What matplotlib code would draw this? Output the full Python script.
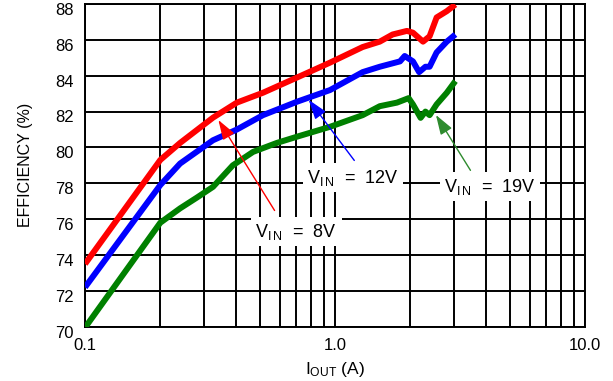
import matplotlib
matplotlib.use('Agg')
import matplotlib.pyplot as plt
from matplotlib.ticker import FixedLocator, NullFormatter
from matplotlib.transforms import ScaledTranslation

plt.rcParams['font.family'] = ['Liberation Sans', 'DejaVu Sans']
plt.rcParams['mathtext.default'] = 'regular'

# ------------ data -------------------------------------------- #
iout_8v = [0.1, 0.2, 0.24, 0.325, 0.405, 0.515, 0.705, 0.955, 1.29, 1.51, 1.70, 1.94, 2.05, 2.25, 2.39, 2.55, 2.8, 3.03]
eff_8v = [73.5, 79.3, 80.25, 81.66, 82.5, 83.05, 83.9, 84.73, 85.6, 85.9, 86.3, 86.5, 86.4, 85.9, 86.2, 87.25, 87.6, 87.97]

iout_12v = [0.1, 0.2, 0.24, 0.325, 0.405, 0.515, 0.705, 0.955, 1.29, 1.51, 1.82, 1.90, 2.05, 2.17, 2.3, 2.39, 2.55, 2.8, 3.03]
eff_12v = [72.2, 77.9, 79.1, 80.4, 81.0, 81.8, 82.55, 83.2, 84.2, 84.5, 84.8, 85.1, 84.8, 84.2, 84.5, 84.5, 85.3, 85.9, 86.3]

iout_19v = [0.1, 0.2, 0.24, 0.28, 0.325, 0.39, 0.47, 0.585, 0.705, 0.955, 1.29, 1.51, 1.77, 1.97, 2.05, 2.2, 2.3, 2.39, 2.55, 2.8, 3.03]
eff_19v = [69.95, 75.8, 76.6, 77.2, 77.8, 79.0, 79.75, 80.25, 80.6, 81.15, 81.8, 82.3, 82.5, 82.75, 82.4, 81.65, 82.0, 81.8, 82.4, 83.05, 83.7]

x_ticks = [0.1, 1.0, 10.0]
x_tick_labels = ['0.1', '1.0', '10.0']
y_ticks = list(range(70, 89, 2))

# labels: (text, text pos, arrow tail, arrow tip, colour)
labels = [
    (r'V$_{I\,N}$  =  8V', (0.70, 75.3), (0.581, 76.35), (0.337, 81.66), 'red'),
    (r'V$_{I\,N}$  =  12V', (1.18, 78.3), (1.213, 79.15), (0.773, 82.78), 'blue'),
    (r'V$_{I\,N}$  =  19V', (4.17, 77.8), (3.53, 78.59), (2.5, 81.94), '#2e8b2e'),
]
# -------------------------------------------------------------- #

fig = plt.figure(figsize=(6.13, 3.81), dpi=100)
ax = fig.add_axes([0.1387, 0.1425, 0.8156, 0.847])

ax.plot(iout_8v, eff_8v, c='#ff0000', lw=4.3, solid_capstyle='butt', zorder=3)
ax.plot(iout_12v, eff_12v, c='#0000ff', lw=4.3, solid_capstyle='butt', zorder=3)
ax.plot(iout_19v, eff_19v, c='#008000', lw=4.3, solid_capstyle='butt', zorder=3)

ax.set_xscale('log')
ax.set_xlim(0.1, 10)
ax.set_ylim(70, 88)
ax.xaxis.set_major_locator(FixedLocator(x_ticks))
ax.set_xticklabels(x_tick_labels)
ax.xaxis.set_minor_locator(FixedLocator([m * d for d in (0.1, 1.0) for m in range(2, 10)]))
ax.xaxis.set_minor_formatter(NullFormatter())
ax.set_yticks(y_ticks)

ax.grid(True, which='both', axis='x', color='black', lw=1.4, zorder=1)
ax.grid(True, which='major', axis='y', color='black', lw=1.4, zorder=1)
ax.set_axisbelow(True)
for s in ax.spines.values():
    s.set_linewidth(1.4)
ax.tick_params(which='both', length=0, labelsize=12, colors='black')
ax.tick_params(axis='x', pad=8)
ax.tick_params(axis='y', pad=8)
# the reference's y labels sit a little below their grid lines
shift = ScaledTranslation(0, -3.5 / 72, fig.dpi_scale_trans)
for lab in ax.get_yticklabels():
    lab.set_transform(lab.get_transform() + shift)

ax.set_xlabel(r'I$_{OUT}$ (A)', fontsize=12.5, labelpad=5)
ax.set_ylabel('EFFICIENCY (%)', fontsize=11.5, labelpad=16)

for txt, pos, tail, tip, col in labels:
    ax.text(pos[0], pos[1], txt, fontsize=13, ha='center', va='center', zorder=4,
            bbox=dict(boxstyle='square,pad=0.25', fc='white', ec='none'))
    ax.annotate('', xy=tip, xytext=tail, zorder=5,
                arrowprops=dict(arrowstyle='-|>,head_length=1.2,head_width=0.4', color=col, lw=1.0))

plt.savefig('out.png', dpi=100)
